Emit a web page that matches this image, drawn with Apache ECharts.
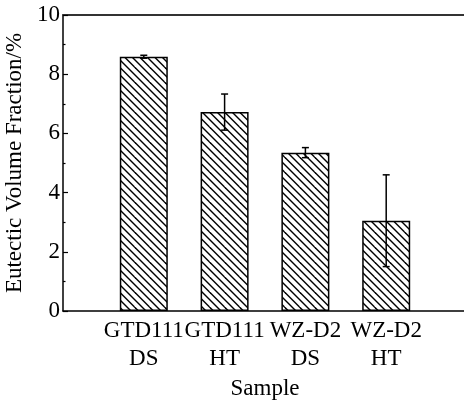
<!DOCTYPE html>
<html>
<head>
<meta charset="utf-8">
<script src="https://cdn.jsdelivr.net/npm/echarts@6/dist/echarts.min.js"></script>
<style>html,body{margin:0;padding:0;background:#fff;}#c{width:464px;height:401px;}</style>
</head>
<body>
<div id="c"></div>
<script>
const categories = ["GTD111\nDS", "GTD111\nHT", "WZ-D2\nDS", "WZ-D2\nHT"];
const positions = [1, 2, 3, 4];
const values = [8.59, 6.72, 5.35, 3.05];
const errors = [0.05, 0.61, 0.17, 1.55];
const yTicks = [0, 2, 4, 6, 8, 10];

function hatch() {
  const s = 15;
  const cv = document.createElement('canvas');
  cv.width = s; cv.height = s;
  const ctx = cv.getContext('2d');
  ctx.fillStyle = '#fff';
  ctx.fillRect(0, 0, s, s);
  ctx.strokeStyle = '#000';
  ctx.lineWidth = 1.4;
  for (let c = -30; c <= 30; c += 7.5) {
    ctx.beginPath();
    ctx.moveTo(c - 15, -15);
    ctx.lineTo(c + 30, 30);
    ctx.stroke();
  }
  return cv;
}

const font = '"Liberation Serif", "Times New Roman", serif';
const fs = 23;
const chart = echarts.init(document.getElementById('c'));
chart.setOption({
  animation: false,
  backgroundColor: '#fff',
  grid: { left: 63, top: 15, right: -3, bottom: 90, outerBoundsMode: 'none', containLabel: false },
  xAxis: [{
    type: 'value', min: 0, max: 5, interval: 1,
    name: 'Sample', nameLocation: 'middle', nameGap: 52,
    nameTextStyle: { fontFamily: font, fontSize: fs, color: '#000', lineHeight: 23 },
    axisLine: { show: true, lineStyle: { color: '#000', width: 1.5 } },
    axisTick: { show: false },
    splitLine: { show: false },
    axisLabel: {
      fontFamily: font, fontSize: fs, color: '#000', lineHeight: 28, margin: 6,
      formatter: v => { const i = positions.indexOf(v); return i >= 0 ? categories[i] : ''; }
    }
  }, {
    type: 'value', min: 0, max: 5, position: 'top',
    axisLine: { show: true, onZero: false, lineStyle: { color: '#333', width: 2 } },
    axisTick: { show: false }, axisLabel: { show: false }, splitLine: { show: false }
  }],
  yAxis: {
    type: 'value', min: yTicks[0], max: yTicks[yTicks.length - 1], interval: 2,
    name: 'Eutectic Volume Fraction/%', nameLocation: 'middle', nameGap: 31,
    nameTextStyle: { fontFamily: font, fontSize: fs, color: '#000' },
    axisLine: { show: true, lineStyle: { color: '#000', width: 1.5 } },
    axisTick: { show: true, inside: true, length: 5, lineStyle: { color: '#000', width: 1.2 } },
    minorTick: { show: true, splitNumber: 2, length: 2.5, lineStyle: { color: '#000', width: 1.2 } },
    splitLine: { show: false },
    axisLabel: { fontFamily: font, fontSize: fs, color: '#000', margin: 3 }
  },
  series: [{
    type: 'bar',
    barWidth: 48,
    data: positions.map((p, i) => [p, values[i]]),
    itemStyle: {
      color: { image: hatch(), repeat: 'repeat' },
      borderColor: '#000', borderWidth: 1.5
    }
  }, {
    type: 'custom',
    data: positions.map((p, i) => [p, values[i], errors[i]]),
    z: 10,
    renderItem: function (params, api) {
      const x = api.value(0), y = api.value(1), e = api.value(2);
      const top = api.coord([x, y + e]);
      const bot = api.coord([x, y - e]);
      const hw = 3.5;
      const st = { stroke: '#000', lineWidth: 1.5 };
      return {
        type: 'group',
        children: [
          { type: 'line', shape: { x1: top[0], y1: top[1], x2: bot[0], y2: bot[1] }, style: st },
          { type: 'line', shape: { x1: top[0] - hw, y1: top[1], x2: top[0] + hw, y2: top[1] }, style: st },
          { type: 'line', shape: { x1: bot[0] - hw, y1: bot[1], x2: bot[0] + hw, y2: bot[1] }, style: st }
        ]
      };
    }
  }]
});
</script>
</body>
</html>
